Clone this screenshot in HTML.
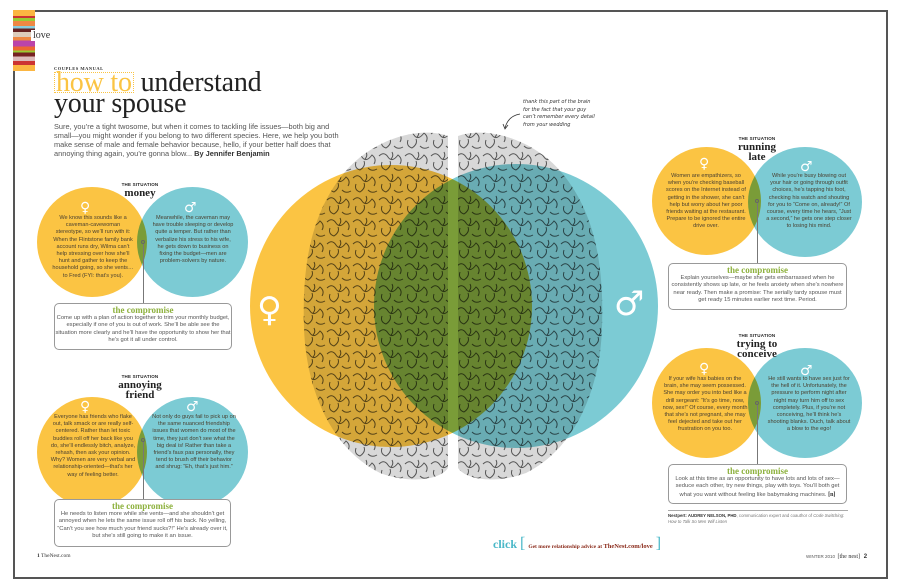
<!DOCTYPE html>
<html><head><meta charset="utf-8"><style>
*{margin:0;padding:0;box-sizing:border-box}
body{width:900px;height:588px;background:#fff;position:relative;overflow:hidden;font-family:"Liberation Sans",sans-serif;color:#444}
.a{position:absolute}
.frame{left:13px;top:10px;width:875px;height:569px;border:2px solid #555}
.c{position:absolute;border-radius:50%}
.y{background:#fbc443}
.b{background:#7ccbd4;mix-blend-mode:multiply}
.t{position:absolute;text-align:center;font-size:5.6px;line-height:7.2px;color:#4a4030}
.sym{position:absolute;text-align:center;color:#fff;font-size:14px;line-height:14px;font-family:"DejaVu Sans",sans-serif}
.box{position:absolute;border:1.2px solid #999;border-radius:5px;background:#fff;text-align:center;font-size:5.8px;line-height:7.3px;color:#555;padding-top:2px}
.box b{display:block;color:#8db13d;font-family:"Liberation Serif",serif;font-size:9px;line-height:9px}
.sit{position:absolute;text-align:center;font-family:"Liberation Serif",serif;font-weight:bold;color:#222;font-size:11px;line-height:10px}
.sit small{display:block;font-family:"Liberation Sans",sans-serif;font-size:4.5px;line-height:6px;letter-spacing:.2px}
.ln{position:absolute;width:1px;background:#777}
.dot{position:absolute;width:4px;height:4px;border:1px solid #666;border-radius:50%}
</style></head><body>
<div class="a frame"></div>
<div class="a" style="left:13px;top:10px;width:22px;height:61px;background:linear-gradient(#fbb642 0 10%,#c33 10% 13%,#9c3 13% 18%,#e84 18% 26%,#8cd 26% 30%,#622 30% 36%,#dcb 36% 44%,#e84 44% 50%,#b4a 50% 60%,#e63 60% 66%,#9c3 66% 70%,#722 70% 76%,#dbb 76% 84%,#c33 84% 90%,#fbb642 90%)"></div>
<div class="a" style="left:31px;top:30px;background:#fff;padding:0 2px;font-family:'Liberation Serif',serif;font-size:10px;color:#333">love</div>
<div class="a" style="left:54px;top:66px;font-family:'Liberation Serif',serif;font-weight:bold;font-size:4.5px;letter-spacing:.5px;color:#333">COUPLES MANUAL</div>
<div class="a" style="left:54px;top:72px;font-family:'Liberation Serif',serif;font-size:28px;line-height:21px;color:#222;letter-spacing:-.2px"><span style="color:#fbc443;border:1px dotted #fbc443;padding:0 1px;line-height:19px;display:inline-block">how to</span> understand<br>your spouse</div>
<div class="a" style="left:54px;top:122px;width:290px;font-size:7.4px;line-height:9px;color:#555">Sure, you’re a tight twosome, but when it comes to tackling life issues—both big and small—you might wonder if you belong to two different species. Here, we help you both make sense of male and female behavior because, hello, if your better half does that annoying thing again, you’re gonna blow... <b style="color:#333">By Jennifer Benjamin</b></div>

<div class="c y" style="left:250px;top:165px;width:282px;height:282px"></div>
<div class="c b" style="left:374px;top:164px;width:284px;height:284px"></div>
<svg class="a" style="left:300px;top:128px;mix-blend-mode:multiply" width="306" height="356" viewBox="0 0 306 356">
<defs><pattern id="p" width="26" height="22" patternUnits="userSpaceOnUse"><rect width="26" height="22" fill="#d8d8d8"/><path d="M1 6 Q6 1 10 7 T20 5 Q25 9 22 14 M4 12 Q2 18 8 20 Q14 16 12 11 M16 18 Q20 22 25 19 M14 2 Q16 6 13 9" stroke="#555" stroke-width="1" fill="none"/></pattern></defs>
<path d="M148 8 C120 -2 70 10 40 50 C10 90 2 140 4 200 C6 260 30 320 80 345 C110 356 140 352 148 340 Z" fill="url(#p)"/>
<path d="M158 8 C186 -2 236 10 266 50 C296 90 304 140 302 200 C300 260 276 320 226 345 C196 356 166 352 158 340 Z" fill="url(#p)"/>
</svg>
<div class="sym" style="left:257px;top:293px;font-size:34px;line-height:34px">♀</div>
<div class="sym" style="left:614px;top:287px;font-size:34px;line-height:34px">♂</div>
<div class="a" style="left:523px;top:99px;font-family:'DejaVu Sans',sans-serif;font-style:italic;font-size:5px;line-height:7.5px;color:#333">thank this part of the brain<br>for the fact that your guy<br>can’t remember every detail<br>from your wedding</div>
<svg class="a" style="left:500px;top:112px" width="22" height="20"><path d="M20 2 Q8 4 5 16" stroke="#333" fill="none" stroke-width=".8"/><path d="M3 12 L5 17 L8 13" stroke="#333" fill="none" stroke-width=".8"/></svg>

<div class="sit" style="left:100px;top:182px;width:80px"><small>THE SITUATION</small>money</div>
<div class="c y" style="left:37px;top:187px;width:110px;height:110px"></div>
<div class="c b" style="left:137px;top:187px;width:111px;height:110px"></div>
<div class="sym" style="left:80px;top:201px">♀</div><div class="sym" style="left:184px;top:201px">♂</div>
<div class="t" style="left:52px;top:215px;width:82px">We know this sounds like a caveman-cavewoman stereotype, so we’ll run with it: When the Flintstone family bank account runs dry, Wilma can’t help stressing over how she’ll hunt and gather to keep the household going, so she vents…to Fred (FYI: that’s you).</div>
<div class="t" style="left:152px;top:215px;width:82px">Meanwhile, the caveman may have trouble sleeping or develop quite a temper. But rather than verbalize his stress to his wife, he gets down to business on fixing the budget—men are problem-solvers by nature.</div>
<div class="dot" style="left:141px;top:240px"></div><div class="ln" style="left:143px;top:244px;height:59px"></div>
<div class="box" style="left:54px;top:303px;width:178px;height:47px"><b>the compromise</b>Come up with a plan of action together to trim your monthly budget, especially if one of you is out of work. She’ll be able see the situation more clearly and he’ll have the opportunity to show her that he’s got it all under control.</div>

<div class="sit" style="left:100px;top:374px;width:80px"><small>THE SITUATION</small>annoying<br>friend</div>
<div class="c y" style="left:37px;top:397px;width:110px;height:110px"></div>
<div class="c b" style="left:137px;top:397px;width:111px;height:110px"></div>
<div class="sym" style="left:80px;top:400px">♀</div><div class="sym" style="left:186px;top:400px">♂</div>
<div class="t" style="left:50px;top:414px;width:86px">Everyone has friends who flake out, talk smack or are really self-centered. Rather than let toxic buddies roll off her back like you do, she’ll endlessly bitch, analyze, rehash, then ask your opinion. Why? Women are very verbal and relationship-oriented—that’s her way of feeling better.</div>
<div class="t" style="left:151px;top:414px;width:86px">Not only do guys fail to pick up on the same nuanced friendship issues that women do most of the time, they just don’t see what the big deal is! Rather than take a friend’s faux pas personally, they tend to brush off their behavior and shrug: “Eh, that’s just him.”</div>
<div class="dot" style="left:141px;top:438px"></div><div class="ln" style="left:143px;top:442px;height:57px"></div>
<div class="box" style="left:54px;top:499px;width:177px;height:48px"><b>the compromise</b>He needs to listen more while she vents—and she shouldn’t get annoyed when he lets the same issue roll off his back. No yelling, “Can’t you see how much your friend sucks?!” He’s already over it, but she’s still going to make it an issue.</div>
<div class="a" style="left:37px;top:553px;font-family:'Liberation Serif',serif;font-size:5.5px;color:#333"><b>1</b> TheNest.com</div>

<div class="sit" style="left:717px;top:136px;width:80px"><small>THE SITUATION</small>running<br>late</div>
<div class="c y" style="left:652px;top:147px;width:109px;height:108px"></div>
<div class="c b" style="left:748px;top:147px;width:114px;height:110px"></div>
<div class="sym" style="left:699px;top:157px">♀</div><div class="sym" style="left:800px;top:160px">♂</div>
<div class="t" style="left:664px;top:173px;width:84px">Women are empathizers, so when you’re checking baseball scores on the Internet instead of getting in the shower, she can’t help but worry about her poor friends waiting at the restaurant. Prepare to be ignored the entire drive over.</div>
<div class="t" style="left:766px;top:173px;width:86px">While you’re busy blowing out your hair or going through outfit choices, he’s tapping his foot, checking his watch and shouting for you to “Come on, already!” Of course, every time he hears, “Just a second,” he gets one step closer to losing his mind.</div>
<div class="dot" style="left:755px;top:199px"></div><div class="ln" style="left:757px;top:203px;height:60px"></div>
<div class="box" style="left:668px;top:263px;width:179px;height:47px"><b>the compromise</b>Explain yourselves—maybe she gets embarrassed when he consistently shows up late, or he feels anxiety when she’s nowhere near ready. Then make a promise: The serially tardy spouse must get ready 15 minutes earlier next time. Period.</div>

<div class="sit" style="left:717px;top:333px;width:80px"><small>THE SITUATION</small>trying to<br>conceive</div>
<div class="c y" style="left:652px;top:348px;width:109px;height:110px"></div>
<div class="c b" style="left:748px;top:348px;width:114px;height:110px"></div>
<div class="sym" style="left:699px;top:362px">♀</div><div class="sym" style="left:800px;top:364px">♂</div>
<div class="t" style="left:662px;top:376px;width:86px">If your wife has babies on the brain, she may seem possessed. She may order you into bed like a drill sergeant: “It’s go time, now, now, sex!” Of course, every month that she’s not pregnant, she may feel dejected and take out her frustration on you too.</div>
<div class="t" style="left:766px;top:376px;width:86px">He still wants to have sex just for the hell of it. Unfortunately, the pressure to perform night after night may turn him off to sex completely. Plus, if you’re not conceiving, he’ll think he’s shooting blanks. Ouch, talk about a blow to the ego!</div>
<div class="dot" style="left:755px;top:401px"></div><div class="ln" style="left:757px;top:405px;height:59px"></div>
<div class="box" style="left:668px;top:464px;width:179px;height:40px"><b>the compromise</b>Look at this time as an opportunity to have lots and lots of sex—seduce each other, try new things, play with toys. You’ll both get what you want without feeling like babymaking machines. <b style="display:inline;color:#333;font-size:6px">[n]</b></div>
<div class="a" style="left:668px;top:510px;width:180px;border-top:1px solid #aaa"></div>
<div class="a" style="left:668px;top:513px;width:185px;font-size:4.3px;line-height:5.5px;color:#777"><b style="color:#333">Nestpert: AUDREY NELSON, PHD</b>, communication expert and coauthor of <i>Code Switching: How to Talk So Men Will Listen</i></div>

<div class="a" style="left:493px;top:535px;font-family:'Liberation Serif',serif;font-weight:bold;font-size:12px;color:#4ab8c8;white-space:nowrap">click <span style="font-size:16px;font-weight:normal">[</span> <span style="font-size:5.5px;color:#8a2a1a">Get more relationship advice at <span style="font-size:6.5px">TheNest.com/love</span></span> <span style="font-size:16px;font-weight:normal">]</span></div>
<div class="a" style="left:806px;top:554px;font-size:4.5px;color:#555;white-space:nowrap">WINTER 2010 &nbsp;<span style="font-family:'Liberation Serif',serif;font-size:6px;color:#333">[the nest]</span> &nbsp; <b style="font-size:6px;color:#333">2</b></div>
</body></html>
